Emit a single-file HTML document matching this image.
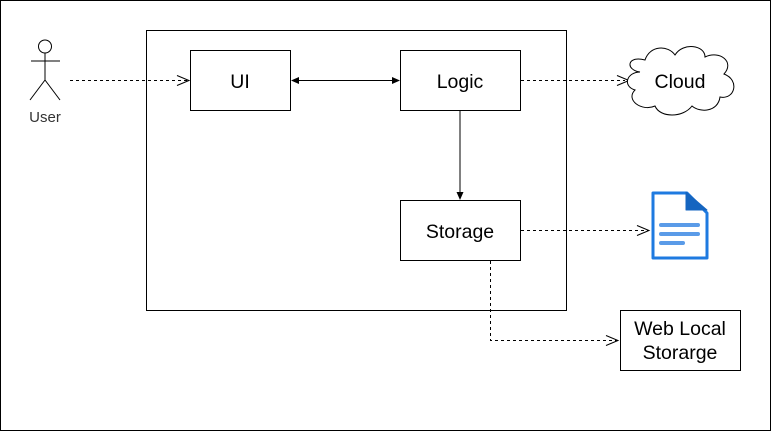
<!DOCTYPE html>
<html><head><style>
body{margin:0;background:#fff}
svg text{font-family:"Liberation Sans",sans-serif;fill:#000}
</style></head><body>
<svg width="771" height="431" viewBox="0 0 771 431" xmlns="http://www.w3.org/2000/svg">
<rect x="0.5" y="0.5" width="770" height="430" fill="#fff" stroke="#000"/>
<rect x="146.5" y="30.5" width="420" height="280" fill="none" stroke="#000"/>
<!-- actor -->
<g stroke="#000" fill="none" stroke-width="1">
<circle cx="45" cy="46.5" r="6.5" fill="#fff"/>
<line x1="45" y1="53" x2="45" y2="80"/>
<line x1="31" y1="61" x2="60" y2="61"/>
<line x1="45" y1="80" x2="30" y2="100"/>
<line x1="45" y1="80" x2="60" y2="100"/>
</g>
<text x="45" y="122" font-size="15" text-anchor="middle" style="fill:#333">User</text>
<!-- boxes -->
<g fill="#fff" stroke="#000">
<rect x="190.5" y="50.5" width="100" height="60"/>
<rect x="400.5" y="50.5" width="120" height="60"/>
<rect x="400.5" y="200.5" width="120" height="60"/>
<rect x="620.5" y="310.5" width="120" height="60"/>
</g>
<text x="240" y="88" font-size="19.5" text-anchor="middle">UI</text>
<text x="460" y="88" font-size="19.5" text-anchor="middle">Logic</text>
<text x="460" y="238" font-size="19.5" text-anchor="middle">Storage</text>
<text x="680" y="335" font-size="19.5" text-anchor="middle">Web Local</text>
<text x="680" y="359" font-size="19.5" text-anchor="middle">Storarge</text>
<!-- connectors -->
<g stroke="#000" fill="none">
<path d="M70 80.5H189" stroke-dasharray="3 3"/>
<path d="M177 75.5L189 80.5L177 85.5"/>
<path d="M294 80.5H397"/>
<path d="M460 111V195"/>
<path d="M521 80.5H625" stroke-dasharray="3 3"/>
<path d="M617 75.5L629 80.5L617 85.5"/>
<path d="M521 230.5H649" stroke-dasharray="3 3"/>
<path d="M637 225.5L649 230.5L637 235.5"/>
<path d="M490.5 261V340.5H617" stroke-dasharray="3 3"/>
<path d="M606 335.5L618 340.5L606 345.5"/>
</g>
<g fill="#000">
<path d="M291 80.5L299 77V84Z"/>
<path d="M400 80.5L392 77V84Z"/>
<path d="M460 200L456.5 192H463.5Z"/>
</g>
<!-- cloud -->
<path d="M640 72C625 70 627 55 645 60C650 45 668 45 675 55C683 42 705 45 705 57C720 50 735 62 724 74C740 80 735 100 720 97C718 112 700 113 692 106C683 118 660 118 655 106C642 112 625 100 635 90C622 86 627 72 640 72Z" fill="#fff" stroke="#000"/>
<text x="680" y="88" font-size="19.5" text-anchor="middle">Cloud</text>
<!-- document -->
<path d="M653 193H687L707 213V258H653Z" fill="#fff" stroke="#1e7ae0" stroke-width="3" stroke-linejoin="round"/>
<path d="M686 192V210H707Z" fill="#1565c0" stroke="#1565c0" stroke-linejoin="round"/>
<g stroke="#5a9be8" stroke-width="4" stroke-linecap="round">
<line x1="661" y1="225" x2="698" y2="225"/>
<line x1="661" y1="234" x2="698" y2="234"/>
<line x1="661" y1="243" x2="683" y2="243"/>
</g>
</svg>
</body></html>
